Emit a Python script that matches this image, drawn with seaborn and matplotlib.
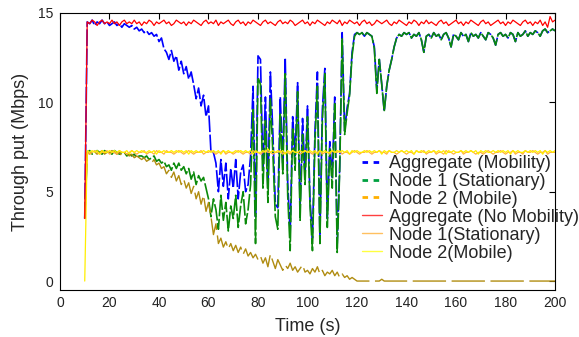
import numpy as np
import seaborn as sns
import matplotlib
matplotlib.use('Agg')
import matplotlib.pyplot as plt
from matplotlib.lines import Line2D

# Tempo de amostragem (s)
tempo = np.arange(10, 201)

# Aggregate (No Mobility)
agg_sem_mob = [3.5,
    14.5, 14.4, 14.6, 14.5, 14.3, 14.5, 14.6, 14.4, 14.5, 14.4,
    14.6, 14.4, 14.5, 14.3, 14.5, 14.6, 14.4, 14.5, 14.4, 14.6,
    14.4, 14.5, 14.3, 14.5, 14.4, 14.6, 14.5, 14.3, 14.5, 14.4,
    14.5, 14.6, 14.4, 14.5, 14.3, 14.4, 14.6, 14.5, 14.4, 14.5,
    14.3, 14.5, 14.4, 14.6, 14.5, 14.4, 14.3, 14.5, 14.6, 14.4,
    14.5, 14.4, 14.6, 14.3, 14.5, 14.4, 14.5, 14.6, 14.4, 14.3,
    14.5, 14.6, 14.4, 14.5, 14.3, 14.5, 14.4, 14.6, 14.5, 14.4,
    14.3, 14.5, 14.6, 14.4, 14.5, 14.4, 14.3, 14.5, 14.6, 14.4,
    14.5, 14.4, 14.6, 14.5, 14.3, 14.4, 14.5, 14.6, 14.4, 14.5,
    14.3, 14.5, 14.4, 14.6, 14.5, 14.4, 14.3, 14.5, 14.4, 14.6,
    14.5, 14.4, 14.6, 14.3, 14.5, 14.4, 14.6, 14.5, 14.4, 14.5,
    14.3, 14.5, 14.6, 14.4, 14.5, 14.3, 14.4, 14.6, 14.5, 14.4,
    14.5, 14.6, 14.4, 14.3, 14.5, 14.4, 14.6, 14.5, 14.4, 14.3,
    14.5, 14.4, 14.6, 14.5, 14.3, 14.5, 14.4, 14.6, 14.4, 14.5,
    14.4, 14.3, 14.5, 14.6, 14.4, 14.5, 14.3, 14.4, 14.5, 14.6,
    14.4, 14.5, 14.3, 14.5, 14.4, 14.6, 14.5, 14.4, 14.3, 14.5,
    14.6, 14.4, 14.5, 14.3, 14.4, 14.5, 14.6, 14.4, 14.5, 14.3,
    14.5, 14.4, 14.6, 14.5, 14.4, 14.3, 14.5, 14.6, 14.4, 14.5,
    14.3, 14.5, 14.4, 14.6, 14.3, 14.5, 14.2, 14.8, 14.5, 14.6]

# Node 1 (No Mobility) - quase todo coberto pela linha amarela
no1_sem_mob = [3.5,
    7.2, 7.1, 7.2, 7.3, 7.2, 7.1, 7.2, 7.2, 7.3, 7.1,
    7.2, 7.2, 7.1, 7.3, 7.2, 7.2, 7.1, 7.2, 7.3, 7.2,
    7.1, 7.2, 7.2, 7.3, 7.1, 7.2, 7.2, 7.1, 7.3, 7.2,
    7.2, 7.1, 7.3, 7.2, 7.2, 7.1, 7.2, 7.3, 7.2, 7.1,
    7.2, 7.3, 7.2, 7.1, 7.2, 7.2, 7.3, 7.1, 7.2, 7.2,
    7.3, 7.2, 7.1, 7.2, 7.2, 7.3, 7.1, 7.2, 7.2, 7.1,
    7.2, 7.3, 7.2, 7.1, 7.2, 7.2, 7.1, 7.3, 7.2, 7.2,
    7.1, 7.2, 7.3, 7.2, 7.2, 7.1, 7.2, 7.2, 7.3, 7.1,
    7.2, 7.2, 7.1, 7.3, 7.2, 7.2, 7.1, 7.2, 7.3, 7.2,
    7.2, 7.1, 7.2, 7.2, 7.3, 7.1, 7.2, 7.2, 7.1, 7.3,
    7.2, 7.2, 7.3, 7.1, 7.2, 7.2, 7.1, 7.2, 7.3, 7.2,
    7.1, 7.2, 7.2, 7.3, 7.2, 7.1, 7.2, 7.2, 7.3, 7.2,
    7.2, 7.1, 7.3, 7.2, 7.2, 7.1, 7.2, 7.3, 7.2, 7.1,
    7.2, 7.2, 7.1, 7.3, 7.2, 7.2, 7.3, 7.1, 7.2, 7.2,
    7.3, 7.1, 7.2, 7.2, 7.1, 7.3, 7.2, 7.2, 7.1, 7.2,
    7.2, 7.3, 7.1, 7.2, 7.2, 7.3, 7.2, 7.1, 7.2, 7.2,
    7.1, 7.2, 7.3, 7.2, 7.1, 7.2, 7.2, 7.3, 7.2, 7.1,
    7.2, 7.2, 7.3, 7.1, 7.2, 7.2, 7.1, 7.3, 7.2, 7.2,
    7.3, 7.2, 7.1, 7.2, 7.2, 7.3, 7.1, 7.2, 7.2, 7.2]

# Node 2 (No Mobility)
no2_sem_mob = [0.0,
    7.3, 7.2, 7.3, 7.2, 7.3, 7.1, 7.3, 7.2, 7.2, 7.3,
    7.2, 7.3, 7.2, 7.3, 7.2, 7.2, 7.3, 7.1, 7.3, 7.2,
    7.3, 7.2, 7.3, 7.2, 7.2, 7.3, 7.2, 7.3, 7.1, 7.3,
    7.2, 7.3, 7.2, 7.2, 7.3, 7.2, 7.3, 7.2, 7.3, 7.2,
    7.3, 7.1, 7.3, 7.2, 7.3, 7.2, 7.2, 7.3, 7.2, 7.3,
    7.2, 7.3, 7.2, 7.3, 7.1, 7.3, 7.2, 7.3, 7.2, 7.2,
    7.3, 7.2, 7.3, 7.2, 7.3, 7.2, 7.3, 7.1, 7.3, 7.2,
    7.2, 7.3, 7.2, 7.4, 7.2, 7.3, 7.2, 7.3, 7.2, 7.3,
    7.1, 7.3, 7.2, 7.3, 7.2, 7.2, 7.3, 7.2, 7.3, 7.2,
    7.3, 7.2, 7.3, 7.1, 7.3, 7.2, 7.3, 7.2, 7.2, 7.3,
    7.2, 7.3, 7.2, 7.3, 7.2, 7.3, 7.1, 7.3, 7.2, 7.3,
    7.2, 7.2, 7.3, 7.2, 7.3, 7.2, 7.3, 7.2, 7.3, 7.1,
    7.3, 7.2, 7.3, 7.2, 7.2, 7.3, 7.2, 7.3, 7.2, 7.3,
    7.2, 7.3, 7.1, 7.3, 7.2, 7.3, 7.2, 7.2, 7.3, 7.2,
    7.3, 7.2, 7.3, 7.2, 7.3, 7.1, 7.3, 7.2, 7.3, 7.2,
    7.2, 7.3, 7.2, 7.3, 7.2, 7.3, 7.2, 7.3, 7.1, 7.3,
    7.2, 7.3, 7.2, 7.2, 7.3, 7.2, 7.3, 7.2, 7.3, 7.2,
    7.3, 7.1, 7.3, 7.2, 7.3, 7.2, 7.2, 7.3, 7.2, 7.3,
    7.2, 7.3, 7.2, 7.3, 7.1, 7.3, 7.2, 7.3, 7.2, 7.3]

# Aggregate (Mobility)
agg_mob = [3.5,
    14.5, 14.4, 14.6, 14.3, 14.5, 14.4, 14.6, 14.4, 14.5, 14.3,
    14.4, 14.5, 14.3, 14.4, 14.2, 14.4, 14.3, 14.2, 14.3, 14.1,
    14.2, 14.0, 14.1, 13.9, 14.0, 13.8, 13.9, 13.7, 13.8, 13.4,
    13.6, 13.0, 12.8, 12.4, 12.9, 12.3, 12.6, 11.8, 12.3, 11.6,
    12.0, 11.3, 11.7, 11.0, 10.2, 10.8, 9.8, 10.4, 9.2, 9.8,
    7.2, 7.2, 6.6, 5.0, 6.8, 5.3, 6.6, 4.6, 6.3, 5.2,
    6.8, 4.6, 6.1, 6.5, 5.0, 5.4, 7.0, 10.9, 3.6, 12.6,
    12.4, 6.2, 10.3, 5.2, 11.7, 8.3, 4.3, 4.1, 10.3, 6.6,
    12.5, 5.5, 2.7, 9.2, 7.0, 11.1, 4.1, 9.1, 5.9, 9.8,
    4.6, 2.4, 8.3, 11.7, 2.5, 9.6, 11.9, 3.5, 7.8, 5.8,
    10.3, 2.1, 6.4, 13.9, 8.4, 9.7, 10.5, 12.8, 13.8, 13.9,
    13.8, 13.9, 13.7, 13.9, 13.8, 13.7, 13.1, 10.7, 12.4, 11.0,
    9.5, 10.9, 11.8, 12.4, 13.1, 13.6, 13.8, 13.7, 13.9, 13.8,
    13.9, 13.6, 13.8, 13.7, 13.9, 13.5, 12.8, 13.7, 13.8, 13.6,
    13.9, 13.7, 13.8, 13.5, 13.8, 13.9, 13.6, 13.1, 13.8, 13.7,
    13.5, 13.9, 13.7, 13.8, 13.4, 13.9, 13.7, 13.8, 13.6, 13.9,
    13.7, 13.5, 13.9, 13.8, 13.6, 13.2, 13.8, 13.9, 13.7, 13.8,
    13.6, 13.9, 13.8, 13.4, 13.9, 13.7, 13.8, 14.0, 13.7, 13.9,
    13.8, 14.0, 13.9, 13.7, 14.0, 14.1, 13.9, 14.0, 14.1, 14.0]

# Node 1 (Stationary) com mobilidade
no1_mob = [3.5,
    7.2, 7.3, 7.1, 7.2, 7.3, 7.2, 7.1, 7.3, 7.2, 7.2,
    7.1, 7.3, 7.2, 7.1, 7.2, 7.2, 7.0, 7.1, 7.0, 7.1,
    6.9, 7.0, 7.0, 6.9, 7.0, 6.8, 6.9, 7.0, 6.7, 6.8,
    6.6, 6.7, 6.4, 6.5, 6.2, 6.6, 6.3, 6.6, 6.2, 6.4,
    6.0, 6.3, 5.7, 6.1, 5.4, 5.9, 5.6, 5.8, 5.2, 4.6,
    3.6, 4.6, 4.0, 2.9, 4.8, 3.4, 4.4, 2.8, 4.2, 3.5,
    4.8, 3.0, 4.2, 5.0, 3.2, 4.0, 5.4, 9.6, 2.1, 11.4,
    11.0, 5.2, 9.0, 4.4, 10.2, 7.2, 3.6, 2.9, 9.4, 6.0,
    11.6, 4.8, 1.7, 8.6, 6.2, 10.6, 3.4, 8.2, 5.4, 9.2,
    4.2, 1.7, 7.8, 10.9, 2.1, 9.0, 11.6, 3.0, 7.4, 5.2,
    10.0, 1.6, 6.2, 13.6, 8.2, 9.4, 10.4, 12.6, 13.7, 13.9,
    13.8, 13.9, 13.7, 13.9, 13.8, 13.7, 13.0, 10.5, 12.4, 11.0,
    9.5, 10.9, 11.8, 12.4, 13.1, 13.6, 13.8, 13.7, 13.9, 13.8,
    13.9, 13.6, 13.8, 13.7, 13.9, 13.5, 12.8, 13.7, 13.8, 13.6,
    13.9, 13.7, 13.8, 13.5, 13.8, 13.9, 13.6, 13.1, 13.8, 13.7,
    13.5, 13.9, 13.7, 13.8, 13.4, 13.9, 13.7, 13.8, 13.6, 13.9,
    13.7, 13.5, 13.9, 13.8, 13.6, 13.2, 13.8, 13.9, 13.7, 13.8,
    13.6, 13.9, 13.8, 13.4, 13.9, 13.7, 13.8, 14.0, 13.7, 13.9,
    13.8, 14.0, 13.9, 13.7, 14.0, 14.1, 13.9, 14.0, 14.1, 14.0]

# Node 2 (Mobile) com mobilidade
no2_mob = [3.5,
    7.2, 7.1, 7.3, 7.2, 7.1, 7.2, 7.3, 7.1, 7.2, 7.2,
    7.3, 7.2, 7.1, 7.2, 7.0, 7.2, 7.1, 7.0, 7.1, 6.9,
    7.0, 6.9, 6.8, 6.9, 6.7, 6.8, 6.6, 6.8, 6.5, 6.6,
    6.3, 6.4, 6.0, 6.2, 5.8, 6.1, 5.6, 5.9, 5.4, 5.7,
    5.2, 5.5, 4.9, 5.3, 4.6, 5.0, 4.3, 4.8, 3.9, 4.4,
    3.6, 2.6, 3.2, 2.1, 2.4, 1.9, 2.2, 1.8, 2.1, 1.7,
    2.0, 1.6, 1.9, 1.5, 1.8, 1.4, 1.6, 1.3, 1.5, 1.2,
    1.4, 1.0, 1.3, 0.8, 1.5, 1.1, 0.7, 1.2, 0.9, 0.6,
    0.9, 0.7, 1.0, 0.6, 0.8, 0.5, 0.7, 0.9, 0.5, 0.6,
    0.4, 0.7, 0.5, 0.8, 0.4, 0.6, 0.3, 0.5, 0.4, 0.6,
    0.3, 0.5, 0.2, 0.4, 0.2, 0.3, 0.1, 0.2, 0.1, 0.0,
    0.0, 0.0, 0.0, 0.0, 0.0, 0.0, 0.0, 0.0, 0.0, 0.1,
    0.0, 0.0, 0.0, 0.0, 0.0, 0.0, 0.0, 0.0, 0.0, 0.0,
    0.0, 0.0, 0.0, 0.0, 0.0, 0.0, 0.0, 0.0, 0.0, 0.0,
    0.0, 0.0, 0.0, 0.0, 0.0, 0.0, 0.0, 0.0, 0.0, 0.0,
    0.0, 0.0, 0.0, 0.0, 0.0, 0.0, 0.0, 0.0, 0.0, 0.0,
    0.0, 0.0, 0.0, 0.0, 0.0, 0.0, 0.0, 0.0, 0.0, 0.0,
    0.0, 0.0, 0.0, 0.0, 0.0, 0.0, 0.0, 0.0, 0.0, 0.0,
    0.0, 0.0, 0.0, 0.0, 0.0, 0.0, 0.0, 0.0, 0.0, 0.0]

rotulos = ['Aggregate (Mobility)', 'Node 1 (Stationary)', 'Node 2 (Mobile)',
           'Aggregate (No Mobility)', 'Node 1(Stationary)', 'Node 2(Mobile)']

sns.set_theme(style='white')
plt.rcParams['font.family'] = ['Liberation Sans', 'DejaVu Sans']

fig = plt.figure(figsize=(5.79, 3.37), dpi=100)
ax = fig.add_axes([0.1036, 0.1395, 0.855, 0.822])

tracejado = (0, (10, 1.5))
sns.lineplot(x=tempo, y=agg_mob, color='#0000FF', lw=1.2, linestyle=tracejado, zorder=2.0, ax=ax)
sns.lineplot(x=tempo, y=no1_mob, color='#0A8A0A', lw=1.2, linestyle=tracejado, zorder=2.1, ax=ax)
sns.lineplot(x=tempo, y=no2_mob, color='#B08C10', lw=1.0, linestyle=(0, (24, 4)), zorder=2.2, ax=ax)
sns.lineplot(x=tempo, y=no1_sem_mob, color='#FFB040', lw=0.9, zorder=2.3, ax=ax)
sns.lineplot(x=tempo, y=no2_sem_mob, color='#FFEE00', lw=0.9, zorder=2.4, ax=ax)
sns.lineplot(x=tempo, y=agg_sem_mob, color='#FF0000', lw=0.9, zorder=2.5, ax=ax)

ax.set_xlim(0, 200)
ax.set_ylim(-0.5, 15)
ax.set_xticks(range(0, 201, 20))
ax.set_yticks([0, 5, 10, 15])
ax.tick_params(direction='in', length=4, width=0.8, top=True, right=True,
               labelsize=10, labelcolor='#222222', color='black')
ax.tick_params(axis='x', pad=4)
ax.tick_params(axis='y', pad=5)
for s in ax.spines.values():
    s.set_color('black')
    s.set_linewidth(0.8)

ax.set_xlabel('Time (s)', fontsize=13, labelpad=6)
ax.set_ylabel('Through put (Mbps)', fontsize=13, labelpad=6)

# Legenda montada a mão para imitar o estilo do original
handles = [
    Line2D([], [], color='#0000FF', lw=2, linestyle=(0, (2, 2))),
    Line2D([], [], color='#00A040', lw=2, linestyle=(0, (2, 2))),
    Line2D([], [], color='#FFB000', lw=2, linestyle=(0, (2, 2))),
    Line2D([], [], color='#FF4040', lw=1),
    Line2D([], [], color='#FFC060', lw=1),
    Line2D([], [], color='#FFFF40', lw=1),
]
leg = fig.legend(handles, rotulos, loc='upper left', bbox_to_anchor=(362 / 579, 1 - 155 / 337),
                 frameon=False, fontsize=13, borderpad=0, borderaxespad=0,
                 handlelength=1.1, handletextpad=0.4, labelspacing=0.05)
leg.set_zorder(5)

plt.savefig('out.png', dpi=100)
plt.close()
